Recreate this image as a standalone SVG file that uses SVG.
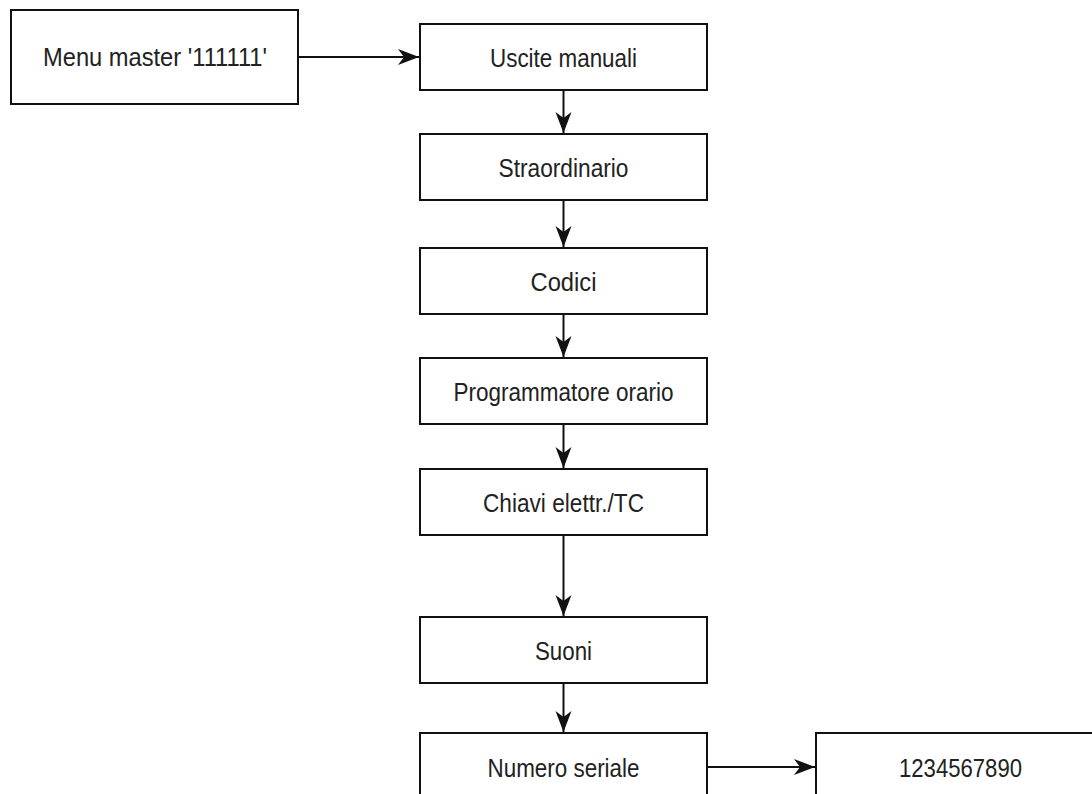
<svg xmlns="http://www.w3.org/2000/svg" width="1092" height="794" viewBox="0 0 1092 794">
<style>
.box{fill:#fff;stroke:#111;stroke-width:2}
.lbl{font-family:"Liberation Sans",Arial,sans-serif;font-size:25px;fill:#222;text-anchor:middle}
.edge{fill:none;stroke:#111;stroke-width:2}
</style>
<defs>
<marker id="arr" markerWidth="22" markerHeight="18" refX="21" refY="9" orient="auto" markerUnits="userSpaceOnUse" viewBox="0 0 22 18">
<path d="M0,1 L21,9 L0,17 L6,9 Z" fill="#111"/>
</marker>
</defs>
<rect width="1092" height="794" fill="#fff"/>
<g id="connectors">
<line class="edge" x1="298" y1="57" x2="419" y2="57" marker-end="url(#arr)"/>
<line class="edge" x1="563.5" y1="90" x2="563.5" y2="133" marker-end="url(#arr)"/>
<line class="edge" x1="563.5" y1="200" x2="563.5" y2="247" marker-end="url(#arr)"/>
<line class="edge" x1="563.5" y1="314" x2="563.5" y2="357" marker-end="url(#arr)"/>
<line class="edge" x1="563.5" y1="424" x2="563.5" y2="468" marker-end="url(#arr)"/>
<line class="edge" x1="563.5" y1="535" x2="563.5" y2="616" marker-end="url(#arr)"/>
<line class="edge" x1="563.5" y1="683" x2="563.5" y2="732" marker-end="url(#arr)"/>
<line class="edge" x1="707" y1="767" x2="815" y2="767" marker-end="url(#arr)"/>
</g>
<g id="n-menu"><rect class="box" x="11" y="10" width="287" height="94"/><text class="lbl" x="155" y="66" textLength="224" lengthAdjust="spacingAndGlyphs">Menu master '111111'</text></g>
<g id="n-uscite"><rect class="box" x="420" y="24" width="287" height="66"/><text class="lbl" x="563.5" y="67" textLength="147" lengthAdjust="spacingAndGlyphs">Uscite manuali</text></g>
<g id="n-straord"><rect class="box" x="420" y="134" width="287" height="66"/><text class="lbl" x="563.5" y="177" textLength="130" lengthAdjust="spacingAndGlyphs">Straordinario</text></g>
<g id="n-codici"><rect class="box" x="420" y="248" width="287" height="66"/><text class="lbl" x="563.5" y="291" textLength="66" lengthAdjust="spacingAndGlyphs">Codici</text></g>
<g id="n-prog"><rect class="box" x="420" y="358" width="287" height="66"/><text class="lbl" x="563.5" y="401" textLength="220" lengthAdjust="spacingAndGlyphs">Programmatore orario</text></g>
<g id="n-chiavi"><rect class="box" x="420" y="469" width="287" height="66"/><text class="lbl" x="563.5" y="512" textLength="161" lengthAdjust="spacingAndGlyphs">Chiavi elettr./TC</text></g>
<g id="n-suoni"><rect class="box" x="420" y="617" width="287" height="66"/><text class="lbl" x="563.5" y="660" textLength="57" lengthAdjust="spacingAndGlyphs">Suoni</text></g>
<g id="n-numero"><rect class="box" x="420" y="733" width="287" height="66"/><text class="lbl" x="563.5" y="777" textLength="152" lengthAdjust="spacingAndGlyphs">Numero seriale</text></g>
<g id="n-serial"><rect class="box" x="816" y="733" width="287" height="66"/><text class="lbl" x="960.5" y="777" textLength="123" lengthAdjust="spacingAndGlyphs">1234567890</text></g>
</svg>
